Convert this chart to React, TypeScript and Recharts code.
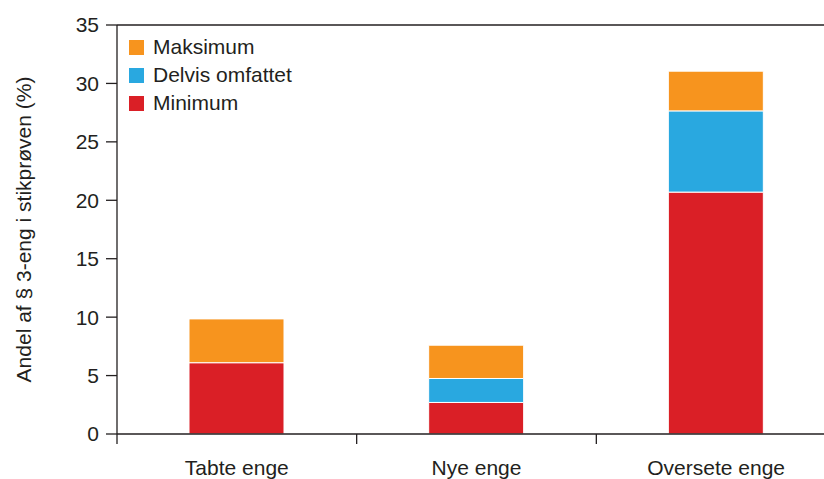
import React from 'react';
import { BarChart, Bar, XAxis, YAxis, Legend, ReferenceLine } from 'recharts';

const categories = ['Tabte enge', 'Nye enge', 'Oversete enge'];
const minimum = [6.1, 2.7, 20.7];
const delvis = [0, 2.05, 6.95];
const maksimum = [3.75, 2.85, 3.4];
const yTicks = [0, 5, 10, 15, 20, 25, 30, 35];
const legendOrder = ['Maksimum', 'Delvis omfattet', 'Minimum'];
const yLabel = 'Andel af § 3-eng i stikprøven (%)';

const data = categories.map((name, i) => ({
  name,
  Minimum: minimum[i],
  'Delvis omfattet': delvis[i],
  Maksimum: maksimum[i],
}));

const FONT = '"Liberation Sans", Arial, Helvetica, sans-serif';
const INK = '#231F20';
const RED = '#DA1F26';
const BLUE = '#29A8E0';
const ORANGE = '#F7941E';

const renderLegend = (props: any) => {
  const payload = props.payload || [];
  const items = legendOrder
    .map((n) => payload.find((p: any) => p.value === n || p.dataKey === n))
    .filter(Boolean);
  return (
    <div style={{ fontFamily: FONT, fontSize: 21, color: INK }}>
      {items.map((it: any) => (
        <div key={it.value} style={{ display: 'flex', alignItems: 'center', height: 28 }}>
          <span style={{ display: 'inline-block', width: 15, height: 15, background: it.color, marginRight: 9 }} />
          <span>{it.value}</span>
        </div>
      ))}
    </div>
  );
};

const renderYLabel = (props: any) => {
  const vb = props.viewBox || { x: 0, y: 25, width: 117, height: 409 };
  const cx = vb.x + 23;
  const cy = vb.y + vb.height / 2;
  return (
    <text
      x={cx}
      y={cy}
      transform={`rotate(-90, ${cx}, ${cy})`}
      textAnchor="middle"
      dominantBaseline="central"
      fill={INK}
      fontSize={21}
      fontFamily={FONT}
    >
      {yLabel}
    </text>
  );
};

const XTick = (props: any) => {
  const { x, y, payload, index, visibleTicksCount } = props;
  const half = (payload && payload.offset) || 0;
  const isLast = index === (visibleTicksCount || 3) - 1;
  return (
    <g>
      <line x1={x - half} y1={y} x2={x - half} y2={y + 10} stroke={INK} strokeWidth={1.3} />
      {isLast && <line x1={x + half} y1={y} x2={x + half} y2={y + 10} stroke={INK} strokeWidth={1.3} />}
      <text x={x} y={y + 26} dy="0.71em" textAnchor="middle" fill={INK} fontSize={21} fontFamily={FONT}>
        {payload.value}
      </text>
    </g>
  );
};

export default function App() {
  return (
    <div style={{ position: 'fixed', left: 0, top: 0, width: 824, height: 479, overflow: 'hidden', background: '#fff' }}>
      <BarChart
        width={840}
        height={479}
        data={data}
        margin={{ top: 25, right: 4, bottom: 0, left: 0 }}
      >
        <Bar dataKey="Minimum" stackId="a" fill={RED} stroke="#fff" strokeWidth={1} barSize={95} isAnimationActive={false} />
        <Bar dataKey="Delvis omfattet" stackId="a" fill={BLUE} stroke="#fff" strokeWidth={1} barSize={95} isAnimationActive={false} />
        <Bar dataKey="Maksimum" stackId="a" fill={ORANGE} stroke="#fff" strokeWidth={1} barSize={95} isAnimationActive={false} />
        <ReferenceLine y={35} stroke={INK} strokeWidth={1.3} />
        <XAxis
          dataKey="name"
          height={45}
          tickLine={false}
          axisLine={{ stroke: INK, strokeWidth: 1.3 }}
          tickSize={0}
          tickMargin={0}
          interval={0}
          tick={<XTick />}
        />
        <YAxis
          width={117}
          domain={[0, 35]}
          ticks={yTicks}
          interval={0}
          tickSize={11}
          tickMargin={7}
          tickLine={{ stroke: INK, strokeWidth: 1.3 }}
          axisLine={{ stroke: INK, strokeWidth: 1.3 }}
          tick={{ fill: INK, fontSize: 21, fontFamily: FONT }}
          label={renderYLabel}
        />
        <Legend
          layout="vertical"
          align="center"
          verticalAlign="middle"
          content={renderLegend}
          wrapperStyle={{ left: 129, top: 33, width: 'auto' }}
        />
      </BarChart>
    </div>
  );
}
